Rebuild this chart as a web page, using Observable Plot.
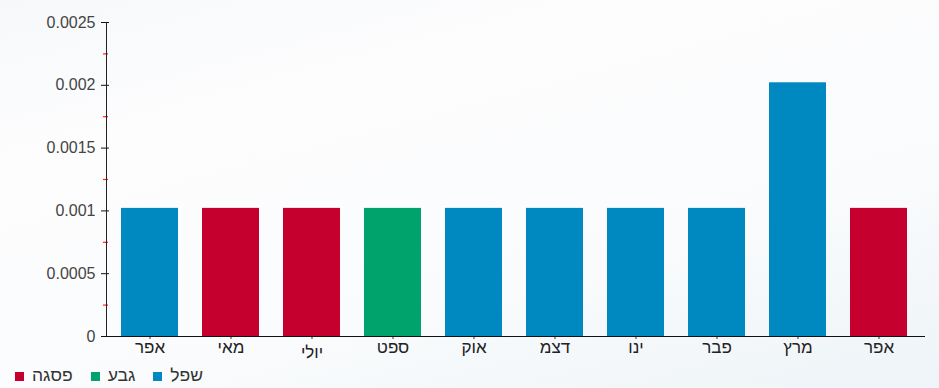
<!DOCTYPE html>
<html lang="he">
<head>
<meta charset="utf-8">
<script src="https://cdn.jsdelivr.net/npm/d3@7"></script>
<script src="https://cdn.jsdelivr.net/npm/@observablehq/plot@0.6"></script>
<style>
  html, body { margin: 0; padding: 0; }
  body {
    width: 939px; height: 388px; overflow: hidden;
    background: linear-gradient(165deg, #f6f8fa 0%, #fdfdfe 25%, #fbfcfd 60%, #eef4f8 100%);
    font-family: "Liberation Sans", Arial, sans-serif;
  }
  #chart svg { display: block; background: transparent; }
  #legend {
    direction: ltr; display: flex; align-items: center; height: 26px;
    padding-left: 15px; font-size: 17.5px; color: #333;
  }
  #legend .item { display: flex; align-items: center; margin-right: 18px; }
  #legend .sw { width: 9px; height: 9px; margin-right: 8px; margin-top: 3px; }
</style>
</head>
<body>
<div id="chart"></div>
<div id="legend"></div>
<script>
const labels = ["אפר", "מאי", "יולי", "ספט", "אוק", "דצמ", "ינו", "פבר", "מרץ", "אפר"];
const values = [0.00102, 0.00102, 0.00102, 0.00102, 0.00102, 0.00102, 0.00102, 0.00102, 0.00202, 0.00102];
const phases = ["שפל", "פסגה", "פסגה", "גבע", "שפל", "שפל", "שפל", "שפל", "שפל", "פסגה"];
const phaseNames = ["פסגה", "גבע", "שפל"];
const phaseColors = ["#c5002f", "#00a36b", "#0088c1"];
const yTicks = [0, 0.0005, 0.001, 0.0015, 0.002, 0.0025];
const yMinorTicks = [0.00025, 0.00075, 0.00125, 0.00175, 0.00225];

const data = labels.map((l, i) => ({idx: i, label: l, value: values[i], phase: phases[i]}));
const idxDomain = labels.map((_, i) => i);

const W = 939, ML = 106, MR = 18;
const plotW = W - ML - MR;

const chart = Plot.plot({
  width: W,
  height: 362,
  marginLeft: ML,
  marginRight: MR,
  marginTop: 22,
  marginBottom: 26,
  style: {fontFamily: "'Liberation Sans', Arial, sans-serif", color: "#333", background: "transparent"},
  x: {type: "band", domain: idxDomain, paddingInner: 0.3, paddingOuter: 0.17},
  y: {domain: [0, 0.0025]},
  color: {domain: phaseNames, range: phaseColors},
  marks: [
    Plot.barY(data, {x: "idx", y: "value", fill: "phase"}),
    Plot.ruleY(yMinorTicks, {stroke: "#ff2020", strokeWidth: 1.2, insetLeft: -3, insetRight: plotW - 2}),
    Plot.ruleY(yTicks, {stroke: "#111", insetLeft: -5, insetRight: plotW - 3}),
    Plot.axisY({ticks: yTicks, tickSize: 0, tickPadding: 11, tickFormat: d => String(d), fontSize: 16, fill: "#444", label: null}),
    Plot.axisX({ticks: idxDomain.filter(i => i !== 2), tickSize: 3, tickPadding: 1, tickFormat: i => labels[i], fontSize: 17, fill: "#222", label: null}),
    Plot.axisX({ticks: [2], tickSize: 3, tickPadding: 6, tickFormat: i => labels[i], fontSize: 17, fill: "#222", label: null}),
    Plot.frame({anchor: "left", stroke: "#222"}),
    Plot.ruleY([0], {stroke: "#111", insetLeft: -3, insetRight: -4})
  ]
});
document.getElementById("chart").appendChild(chart);

const legend = document.getElementById("legend");
phaseNames.forEach((name, i) => {
  const item = document.createElement("div");
  item.className = "item";
  const sw = document.createElement("span");
  sw.className = "sw";
  sw.style.background = phaseColors[i];
  const t = document.createElement("span");
  t.textContent = name;
  item.appendChild(sw);
  item.appendChild(t);
  legend.appendChild(item);
});
</script>
</body>
</html>
